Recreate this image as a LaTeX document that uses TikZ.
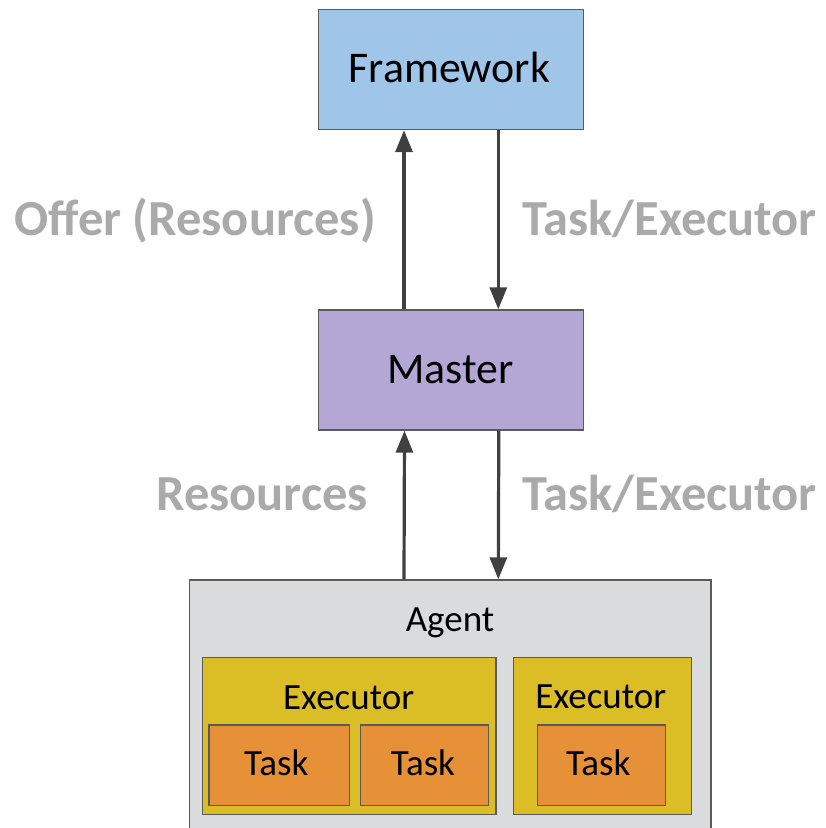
\documentclass[tikz,border=0pt]{standalone}
\usepackage{fontspec}
\setmainfont{Carlito}
\usetikzlibrary{arrows.meta}

\definecolor{fwblue}{HTML}{9FC5E8}
\definecolor{masterpurple}{HTML}{B4A7D6}
\definecolor{agentgray}{HTML}{DADBDD}
\definecolor{execyellow}{HTML}{DBBD25}
\definecolor{taskorange}{HTML}{E69038}
\definecolor{edgegray}{HTML}{5A5A5A}
\definecolor{arrowgray}{HTML}{404040}
\definecolor{labelgray}{HTML}{AAAAAA}

\tikzset{
  box/.style={draw=edgegray, line width=1.4pt, inner sep=0pt, rectangle},
  bigtext/.style={anchor=base, inner sep=0pt, font=\fontsize{43.8}{52}\selectfont},
  smalltext/.style={anchor=base, inner sep=0pt, font=\fontsize{37}{44}\selectfont},
  msglabel/.style={inner sep=0pt, text=labelgray, font=\fontsize{50.5}{60}\selectfont\bfseries},
  flow/.style={draw=arrowgray, line width=3.2pt, -{Triangle[width=17pt,length=22pt]}}
}

\begin{document}
\begin{tikzpicture}[x=1pt, y=-1pt]
  \useasboundingbox (0,0) rectangle (826,828);
  \clip (0,0) rectangle (826,828);

  % framework and master
  \node[box, fill=fwblue, minimum width=265pt, minimum height=120pt] (fw) at (450.8,69.5) {};
  \node[bigtext] (fwtext) at (449.5,82) {Framework};
  \node[box, fill=masterpurple, minimum width=265pt, minimum height=120pt] (master) at (450.8,370) {};
  \node[bigtext] (mastertext) at (450.5,383) {Master};

  % agent with its executors and tasks
  \node[box, fill=agentgray, minimum width=521.5pt, minimum height=270pt] (agent) at (450.3,715) {};
  \node[smalltext] (agenttext) at (450,631.7) {Agent};

  \node[box, fill=execyellow, minimum width=293.7pt, minimum height=157pt] (exec1) at (349.2,735.8) {};
  \node[smalltext] (exec1text) at (348.7,709) {Executor};
  \node[box, fill=execyellow, minimum width=178.4pt, minimum height=157pt] (exec2) at (602.5,735.8) {};
  \node[smalltext] (exec2text) at (600.8,708.5) {Executor};

  \node[box, fill=taskorange, minimum width=140.3pt, minimum height=80.7pt] (task1) at (279.1,765.3) {};
  \node[smalltext] (task1text) at (276.3,775.5) {Task};
  \node[box, fill=taskorange, minimum width=127.7pt, minimum height=80.7pt] (task2) at (424.6,765.3) {};
  \node[smalltext] (task2text) at (423,775.5) {Task};
  \node[box, fill=taskorange, minimum width=128.4pt, minimum height=80.7pt] (task3) at (601.5,765.3) {};
  \node[smalltext] (task3text) at (598.3,775.5) {Task};

  % messages between the components
  \draw[flow] ([xshift=-46.8pt]master.north) -- ([xshift=-46.8pt]fw.south);
  \draw[flow] ([xshift=47.5pt]fw.south) -- ([xshift=47.5pt]master.north);
  \draw[flow] ([xshift=-46.3pt]agent.north) -- ([xshift=-46.3pt]master.south);
  \draw[flow] ([xshift=48pt]master.south) -- ([xshift=48pt]agent.north);

  \node[msglabel, anchor=base east] (offer) at (376,235) {Offer (Resources)};
  \node[msglabel, anchor=base west] (launch1) at (522,235) {Task/Executor};
  \node[msglabel, anchor=base east] (res) at (368,510) {Resources};
  \node[msglabel, anchor=base west] (launch2) at (522,510) {Task/Executor};
\end{tikzpicture}
\end{document}
